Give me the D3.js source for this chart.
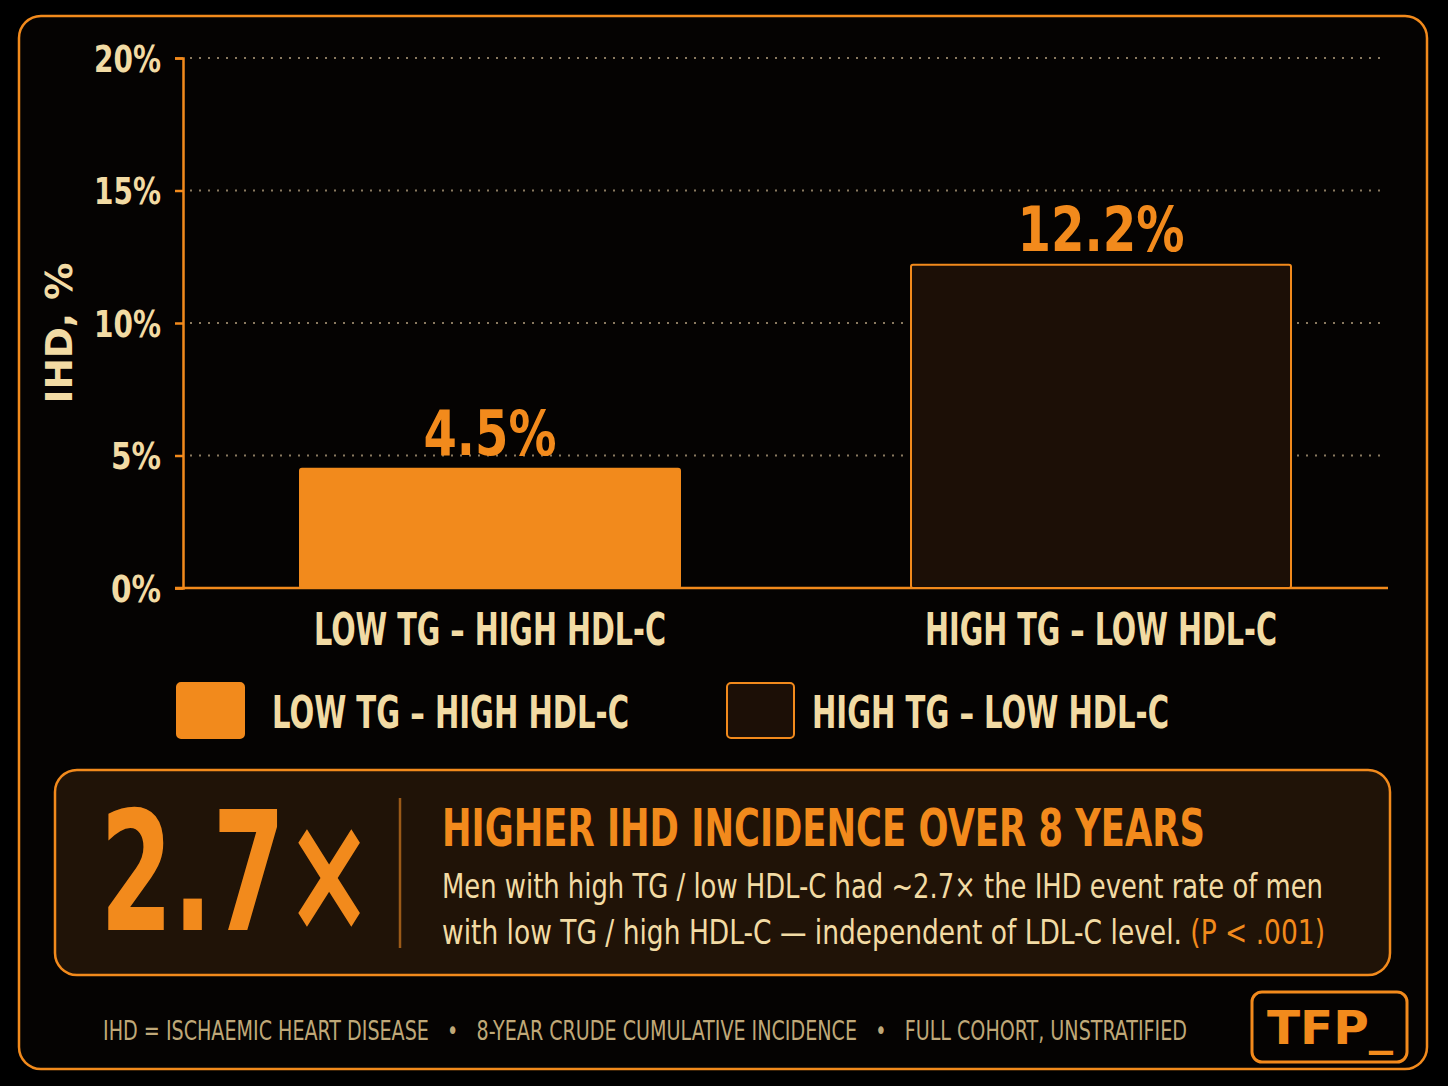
<!DOCTYPE html>
<html><head><meta charset="utf-8">
<script src="https://cdn.jsdelivr.net/npm/d3@7"></script>
<style>body{margin:0;background:#000}</style></head>
<body><svg id="c" width="1448" height="1086"></svg>
<script>
const categories=["LOW TG – HIGH HDL-C","HIGH TG – LOW HDL-C"];
const values=[4.5,12.2];
const valueLabels=["4.5%","12.2%"];
const yTicks=[0,5,10,15,20];
const FONT="'DejaVu Sans Condensed','Liberation Sans Narrow',sans-serif";
const OR="#f28a1c",PALE="#f2dba4",DARK="#1c0f06";
const svg=d3.select("#c");
function T(sel,len){return sel.attr("textLength",len).attr("lengthAdjust","spacingAndGlyphs");}
svg.append("rect").attr("width",1448).attr("height",1086).attr("fill","#000");
svg.append("rect").attr("x",19).attr("y",16).attr("width",1408).attr("height",1053).attr("rx",22).attr("fill","#050302").attr("stroke",OR).attr("stroke-width",2.5);
const y=d3.scaleLinear().domain([0,20]).range([588,58]);
const x=d3.scalePoint().domain(categories).range([490,1101]);
const bw=380;
const g=svg.append("g");
yTicks.filter(t=>t>0).forEach(t=>g.append("line").attr("x1",190).attr("x2",1385).attr("y1",y(t)).attr("y2",y(t)).attr("stroke","#8a7a60").attr("stroke-width",2).attr("stroke-dasharray","2,7"));
const ax=g.append("g").attr("transform","translate(183,0)").call(d3.axisLeft(y).tickValues(yTicks).tickFormat(d=>d+"%").tickSize(8));
ax.select(".domain").attr("stroke",OR).attr("stroke-width",2.5);
ax.selectAll(".tick line").attr("stroke",OR).attr("stroke-width",2.5);
ax.selectAll(".tick text").attr("fill",PALE).attr("font-family",FONT).attr("font-weight","bold").attr("font-size",38).attr("x",-22).attr("dy","0.35em")
  .attr("textLength",d=>d<10?50:67).attr("lengthAdjust","spacingAndGlyphs");
g.append("line").attr("x1",175).attr("x2",1388).attr("y1",588).attr("y2",588).attr("stroke",OR).attr("stroke-width",2.5);
T(svg.append("text").attr("transform","translate(72,333) rotate(-90)").attr("text-anchor","middle").attr("fill",PALE).attr("font-family",FONT).attr("font-weight","bold").attr("font-size",38).text("IHD, %"),141);
categories.forEach((c,i)=>{
  svg.append("rect").attr("x",x(c)-bw/2).attr("y",y(values[i])).attr("width",bw).attr("height",588-y(values[i])).attr("rx",2)
    .attr("fill",i==0?OR:DARK).attr("stroke",OR).attr("stroke-width",2);
  T(svg.append("text").attr("x",x(c)).attr("y",y(values[i])-14).attr("text-anchor","middle").attr("fill",OR).attr("font-family",FONT).attr("font-weight","bold").attr("font-size",62).text(valueLabels[i]),i?167:133);
  T(svg.append("text").attr("x",x(c)).attr("y",645).attr("text-anchor","middle").attr("fill",PALE).attr("font-family",FONT).attr("font-weight","bold").attr("font-size",44).text(c),352);
});
const lx=[177,727];
categories.forEach((c,i)=>{
  svg.append("rect").attr("x",lx[i]).attr("y",683).attr("width",67).attr("height",55).attr("rx",4).attr("fill",i==0?OR:DARK).attr("stroke",OR).attr("stroke-width",2);
  T(svg.append("text").attr("x",lx[i]+95-10*i).attr("y",728).attr("fill",PALE).attr("font-family",FONT).attr("font-weight","bold").attr("font-size",44).text(c),357);
});
svg.append("rect").attr("x",55).attr("y",770).attr("width",1335).attr("height",205).attr("rx",22).attr("fill","#201307").attr("stroke",OR).attr("stroke-width",2.5);
T(svg.append("text").attr("x",100).attr("y",930).attr("fill",OR).attr("font-family",FONT).attr("font-weight","bold").attr("font-size",165).text("2.7×"),273);
svg.append("line").attr("x1",400).attr("x2",400).attr("y1",798).attr("y2",948).attr("stroke","#9a5a18").attr("stroke-width",2.5);
T(svg.append("text").attr("x",442).attr("y",846).attr("fill",OR).attr("font-family",FONT).attr("font-weight","bold").attr("font-size",52).text("HIGHER IHD INCIDENCE OVER 8 YEARS"),763);
T(svg.append("text").attr("x",442).attr("y",898).attr("fill",PALE).attr("font-family",FONT).attr("font-size",33).text("Men with high TG / low HDL-C had ~2.7× the IHD event rate of men"),881);
const t2=T(svg.append("text").attr("x",442).attr("y",944).attr("fill",PALE).attr("font-family",FONT).attr("font-size",33),883);
t2.append("tspan").text("with low TG / high HDL-C — independent of LDL-C level. ");
t2.append("tspan").attr("fill",OR).text("(P < .001)");
T(svg.append("text").attr("x",103).attr("y",1040).attr("fill","#bfa878").attr("font-family",FONT).attr("font-size",26).attr("xml:space","preserve")
  .text("IHD = ISCHAEMIC HEART DISEASE   •   8-YEAR CRUDE CUMULATIVE INCIDENCE   •   FULL COHORT, UNSTRATIFIED"),1084);
svg.append("rect").attr("x",1252).attr("y",992).attr("width",155).attr("height",70).attr("rx",10).attr("fill","none").attr("stroke",OR).attr("stroke-width",3);
T(svg.append("text").attr("x",1267).attr("y",1044).attr("fill",OR).attr("font-family","'DejaVu Sans',sans-serif").attr("font-weight","bold").attr("font-size",46).text("TFP_"),126);
</script></body></html>
